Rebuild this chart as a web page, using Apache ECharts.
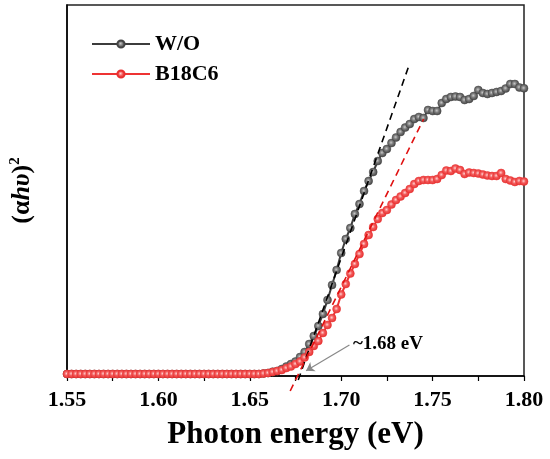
<!DOCTYPE html>
<html>
<head>
<meta charset="utf-8">
<script src="https://cdn.jsdelivr.net/npm/echarts@6/dist/echarts.min.js"></script>
<style>
html,body{margin:0;padding:0;background:#fff;}
#chart{width:550px;height:459px;}
</style>
</head>
<body>
<div id="chart"></div>
<script>
// Photon energy grid (eV)
var energies = [
1.5500,1.5525,1.5550,1.5575,1.5600,1.5625,1.5650,1.5675,1.5700,1.5725,
1.5750,1.5775,1.5800,1.5825,1.5850,1.5875,1.5900,1.5925,1.5950,1.5975,
1.6000,1.6025,1.6050,1.6075,1.6100,1.6125,1.6150,1.6175,1.6200,1.6225,
1.6250,1.6275,1.6300,1.6325,1.6350,1.6375,1.6400,1.6425,1.6450,1.6475,
1.6500,1.6525,1.6550,1.6575,1.6600,1.6625,1.6650,1.6675,1.6700,1.6725,
1.6750,1.6775,1.6800,1.6825,1.6850,1.6875,1.6900,1.6925,1.6950,1.6975,
1.7000,1.7025,1.7050,1.7075,1.7100,1.7125,1.7150,1.7175,1.7200,1.7225,
1.7250,1.7275,1.7300,1.7325,1.7350,1.7375,1.7400,1.7425,1.7450,1.7475,
1.7500,1.7525,1.7550,1.7575,1.7600,1.7625,1.7650,1.7675,1.7700,1.7725,
1.7750,1.7775,1.7800,1.7825,1.7850,1.7875,1.7900,1.7925,1.7950,1.7975,
1.8000
];
// (alpha h nu)^2, arbitrary units
var woValues = [
2,2,2,2,2,2,2,2,2,2,
2,2,2,2,2,2,2,2,2,2,
2,2,2,2,2,2,2,2,2,2,
2,2,2,2,2,2,2,2,2,2,
2,2,2,2.5,3,4.3,5,7,9.5,12,
14.5,19,24,32,40,50,62,76,91,106,
123,137,148,162,172,185,195,204,215,223,
227,233,238.5,244,248.5,252,257,259,258,266,
265,265,273,277,279,279.5,279,276,277,280,
286,283,282,283,284,285,287.5,292,292,288.5,
287.7
];
var b18c6Values = [
2,2,2,2,2,2,2,2,2,2,
2,2,2,2,2,2,2,2,2,2,
2,2,2,2,2,2,2,2,2,2,
2,2,2,2,2,2,2,2,2,2,
2,2,2,2.5,3,4,5,6,8,9.5,
12,14.5,18.5,24,30,35,43,51,58,67,
81.5,92,102.5,112,122,132,141,149,157,163,
166,171.5,176,179.5,183,187,192,195,196,196,
196,197,201,205.5,205,207.5,206,202,203.5,203,
202.5,201.5,200.5,200,200,203,197,195.5,194,195,
194.5
];
// Linear-fit tangent lines [energy, value]
var tangentWO = [[1.6765, -4], [1.7375, 312.7]];
var tangentB18C6 = [[1.6721, -15], [1.7451, 257]];
// Band-gap annotation
var arrowPts = [[1.7045, 31], [1.6808, 5.3]];
var annoPoint = [1.7064, 32];
var annoText = '~1.68 eV';
var seriesNames = ['W/O', 'B18C6'];
var xTitle = 'Photon energy (eV)';

var FONT = "'Liberation Serif','Times New Roman',serif";

function pairs(xs, ys){ return xs.map(function(x,i){ return [x, ys[i]]; }); }

function markerGrad(c0, c1, c2){
  return {type:'radial', x:0.45, y:0.45, r:0.6,
    colorStops:[{offset:0,color:c0},{offset:0.4,color:c1},{offset:1,color:c2}]};
}

var chart = echarts.init(document.getElementById('chart'), null, {renderer:'canvas'});
chart.setOption({
  backgroundColor:'#fff',
  animation:false,
  grid:{left:64, right:26, top:5, bottom:83, show:true, borderColor:'#222', borderWidth:1.5},
  legend:{
    data:seriesNames, orient:'vertical', left:86, top:28, itemWidth:58, itemHeight:9, itemGap:8,
    textStyle:{fontFamily:FONT, fontSize:22, fontWeight:'bold', color:'#000'}
  },
  xAxis:{
    type:'value', min:1.55, max:1.80, interval:0.05,
    name:xTitle, nameLocation:'middle', nameGap:43,
    nameTextStyle:{fontFamily:FONT, fontSize:31, fontWeight:'bold', color:'#000'},
    axisLine:{lineStyle:{color:'#000', width:1.5}},
    axisTick:{show:true, length:5, lineStyle:{color:'#000', width:1.2}},
    minorTick:{show:true, splitNumber:2, length:5, lineStyle:{color:'#000', width:1.2}},
    splitLine:{show:false},
    axisLabel:{fontFamily:FONT, fontSize:22, fontWeight:'bold', color:'#000', margin:13,
      formatter:function(v){ return v.toFixed(2); }}
  },
  yAxis:{
    type:'value', min:0, max:371,
    name:'{p|(α}{i|hυ}{p|)}{s|2}', nameLocation:'middle', nameGap:30, nameRotate:90,
    nameTextStyle:{
      fontFamily:FONT, fontSize:26, fontWeight:'bold', color:'#000',
      rich:{
        p:{fontFamily:FONT, fontSize:26, fontWeight:'bold', color:'#000'},
        i:{fontFamily:FONT, fontSize:26, fontWeight:'bold', fontStyle:'italic', color:'#000'},
        s:{fontFamily:FONT, fontSize:15, fontWeight:'bold', color:'#000', padding:[0,0,14,0]}
      }
    },
    axisLine:{show:true, lineStyle:{color:'#000', width:1.5}},
    axisTick:{show:false}, axisLabel:{show:false}, splitLine:{show:false}
  },
  series:[
    {
      name:'W/O', type:'line', data:pairs(energies, woValues),
      symbol:'circle', symbolSize:8, showAllSymbol:true,
      lineStyle:{color:'#3c3c3c', width:2},
      itemStyle:{color:markerGrad('#c8c8c8','#7a7a7a','#3a3a3a'), borderColor:'#444', borderWidth:0.5},
      z:2
    },
    {
      name:'B18C6', type:'line', data:pairs(energies, b18c6Values),
      symbol:'circle', symbolSize:8, showAllSymbol:true,
      lineStyle:{color:'#ee3333', width:2},
      itemStyle:{color:markerGrad('#ffd0d0','#f25a5a','#e52a2a'), borderColor:'#e83030', borderWidth:0.5},
      z:3
    },
    {
      name:'fitWO', type:'line', data:tangentWO, symbol:'none', clip:false,
      lineStyle:{color:'#000', width:1.6, type:[7,5]}, z:4
    },
    {
      name:'fitB', type:'line', data:tangentB18C6, symbol:'none', clip:false,
      lineStyle:{color:'#e01010', width:1.6, type:[7,5]}, z:4
    },
    {
      name:'arrow', type:'lines', coordinateSystem:'cartesian2d', polyline:false,
      data:[{coords:arrowPts}],
      symbol:['none','arrow'], symbolSize:8,
      lineStyle:{color:'#888', width:1.2, opacity:1, curveness:0}, z:5
    },
    {
      name:'anno', type:'scatter', data:[annoPoint], symbolSize:0, silent:true,
      itemStyle:{opacity:1},
      label:{show:true, position:'right', distance:0, formatter:annoText, opacity:1,
        fontFamily:FONT, fontSize:19, fontWeight:'bold', color:'#000'}, z:5
    }
  ]
});
</script>
</body>
</html>
